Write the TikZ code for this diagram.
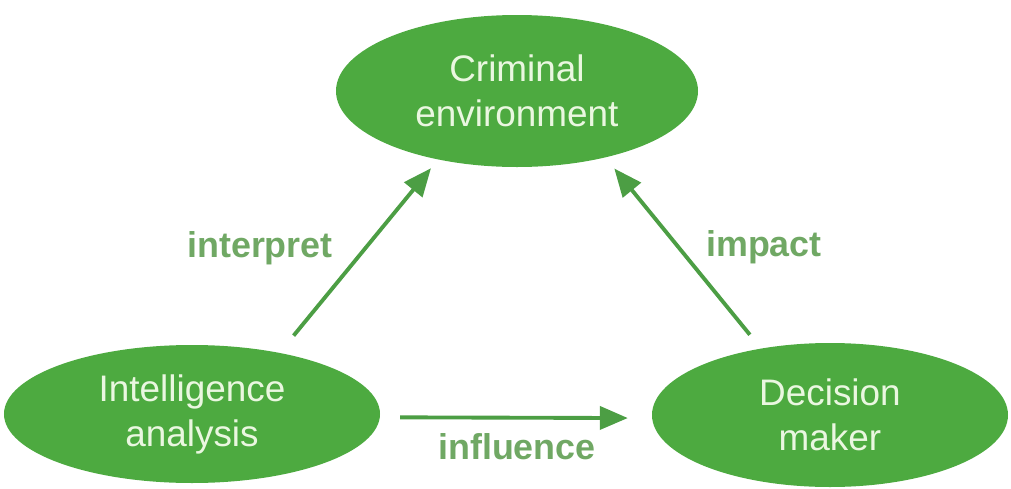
\documentclass[tikz,border=0pt]{standalone}
\usepackage{fontspec}
\setmainfont{Liberation Sans}
\usepackage{tikz}
\usetikzlibrary{shapes.geometric,arrows.meta}

\definecolor{ovalgreen}{RGB}{77,170,64}
\definecolor{ovaltext}{RGB}{234,247,224}
\definecolor{labelgreen}{RGB}{112,168,100}
\definecolor{arrowgreen}{RGB}{76,158,68}

\begin{document}
\begin{tikzpicture}[scale=1.0,
    oval/.style={ellipse, fill=ovalgreen, text=ovaltext, align=center, inner sep=0pt,
        font=\fontsize{21}{25.6}\selectfont},
    flow/.style={-{Triangle[length=0.56cm,width=0.46cm]}, line width=2.2pt, arrowgreen},
    verb/.style={text=labelgreen, anchor=base, font=\fontsize{20.4}{24}\selectfont\bfseries}]
\useasboundingbox (0,0) rectangle (20.22,-9.78);

% Ellipses
\node[oval, minimum width=7.24cm, minimum height=3.04cm] (crim) at (10.34,-1.82) {Criminal\\environment};
\node[oval, minimum width=7.52cm, minimum height=2.76cm] (intel) at (3.84,-8.28) {Intelligence\\analysis};
\node[oval, minimum width=7.12cm, minimum height=2.88cm] (dec) at (16.6,-8.3) {Decision\\maker};

% Arrows
\draw[flow, shorten <=0.44cm, shorten >=0.22cm] (intel.35) -- (crim.-139);
\draw[flow, shorten <=0.35cm, shorten >=0.28cm] (dec.136) -- (crim.-37);
\draw[flow, shorten <=0.4cm, shorten >=0.48cm] (intel.-1.5) -- (dec.181.5);

% Labels
\node[verb] (interp) at (5.2,-5.14) {interpret};
\node[verb] (impact) at (15.28,-5.12) {impact};
\node[verb] (influ) at (10.34,-9.18) {influence};
\end{tikzpicture}
\end{document}
